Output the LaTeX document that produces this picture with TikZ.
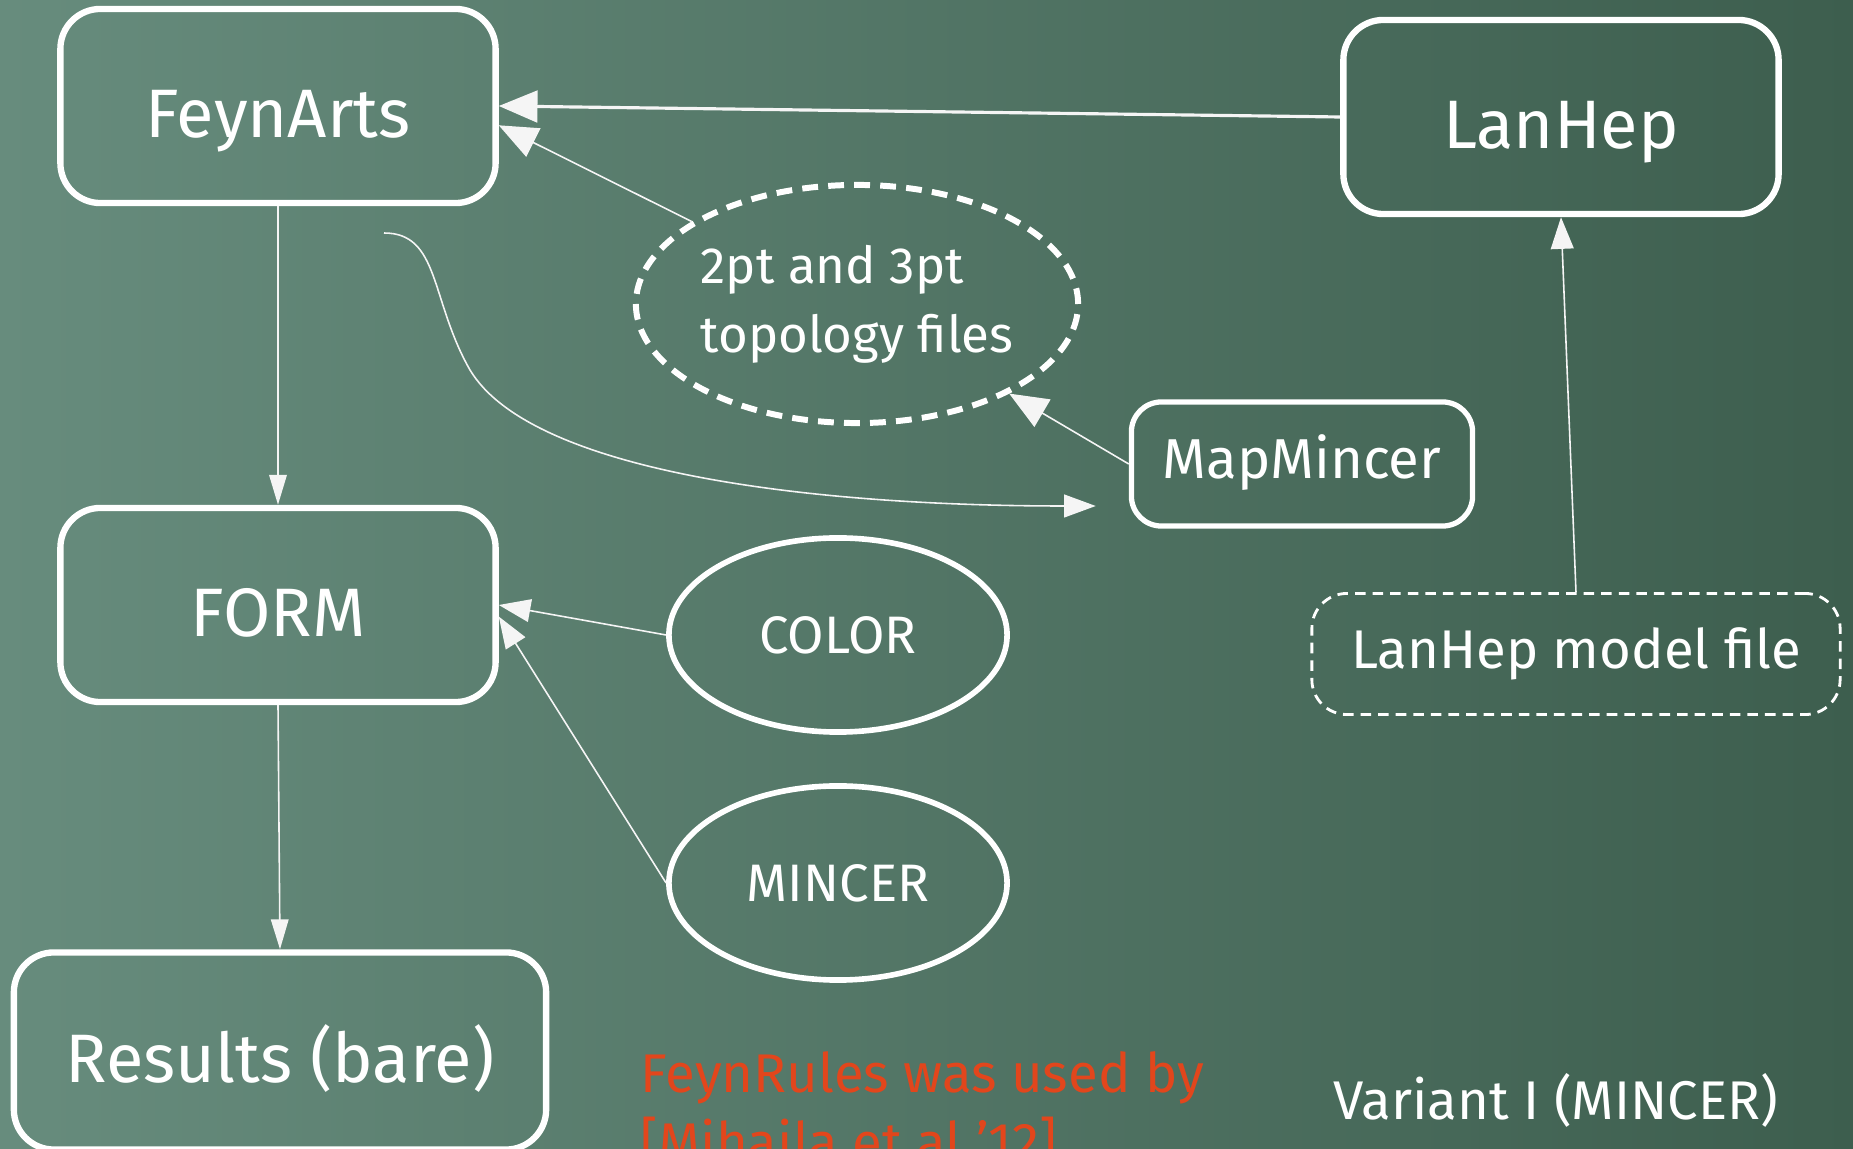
\documentclass[tikz,border=0pt]{standalone}
\usepackage{fontspec}
\setmainfont{Fira Sans}
\usetikzlibrary{arrows.meta,shapes.geometric}

\definecolor{boardlight}{HTML}{678C7D}
\definecolor{boarddark}{HTML}{3D5E4E}
\definecolor{noteorange}{HTML}{E2461C}

\begin{document}
\begin{tikzpicture}[x = 0.01cm, y = -0.01cm,
    box/.style = {draw = white, line width = 1.8pt, rounded corners = 0.4cm, text = white,
        minimum width = 4.35cm, minimum height = 1.94cm, text height = 20pt, text depth = 2pt,
        font = \fontsize{19.5}{23}\selectfont},
    blob/.style = {ellipse, draw = white, line width = 1.6pt, text = white, inner sep = 0pt,
        minimum width = 3.38cm, minimum height = 1.94cm, font = \fontsize{15}{18}\selectfont},
    link/.style = {white!92!gray, line width = 0.45pt},
    bighead/.style = {-{Triangle[length = 11pt, width = 9pt]}},
    head/.style = {-{Triangle[length = 9pt, width = 6.5pt]}},
    slimhead/.style = {-{Triangle[length = 8.5pt, width = 5pt]}}]

    \useasboundingbox (0, 0) rectangle (1853, 1149);
    \clip (0, 0) rectangle (1853, 1149);
    \shade [left color = boardlight, right color = boarddark] (0, 0) rectangle (1853, 1149);

    % boxes
    \node [box] (feynarts) at (278, 106) {FeynArts};
    \node [box] (lanhep) at (1561, 117) {LanHep};
    \node [box] (form) at (278, 605) {FORM};
    \node [box, minimum width = 5.32cm, minimum height = 1.97cm] (results) at (280, 1051) {Results (bare)};
    \node [box, line width = 1.5pt, rounded corners = 0.3cm, minimum width = 3.41cm, minimum height = 1.24cm,
        text height = 11.5pt, text depth = 3.2pt, font = \fontsize{16}{19}\selectfont] (mapmincer) at (1302, 464) {MapMincer};

    % ellipses
    \node [blob, line width = 1.7pt, dash pattern = on 4.5pt off 2.9pt, minimum width = 4.32cm, minimum height = 2.38cm,
        align = left, font = \fontsize{14.5}{19.6}\selectfont] (topo) at (857, 304) {2pt and 3pt\\topology files};
    \node [blob] (color) at (838, 635) {COLOR};
    \node [blob] (mincer) at (838, 883) {MINCER};

    \node [draw = white, line width = 0.8pt, dash pattern = on 3pt off 2pt, rounded corners = 0.35cm, text = white,
        minimum width = 5.28cm, minimum height = 1.21cm, font = \fontsize{15.5}{18}\selectfont] (modelfile) at (1576, 654) {LanHep model file};

    % connectors
    \draw [link, line width = 0.9pt, bighead] (lanhep.west) -- (feynarts.east);
    \draw [link, bighead] (topo) -- (feynarts.-5);
    \draw [link, bighead] (mapmincer.west) -- (topo);
    \draw [link, head] (color.west) -- (form.east);
    \draw [link, head] (mincer.west) -- (form.-3);
    \draw [link, head] (modelfile.north) -- (lanhep.south);
    \draw [link, slimhead] (feynarts.south) -- (form.north);
    \draw [link, slimhead] (form.south) -- (results.north);

    \coordinate (bend) at (384, 233);
    \coordinate (mapin) at ([shift = {(-33, 42)}]mapmincer.west);
    \draw [link, head] (bend) .. controls (440, 233) and (430, 300) .. (470, 370)
        .. controls (530, 470) and (800, 506) .. (mapin);

    % notes
    \node [anchor = north west, inner sep = 0pt, align = left, text = noteorange,
        font = \fontsize{15.5}{19.6}\selectfont] (feynrules) at (640, 1051) {FeynRules was used by\\{[}Mihaila et al '12{]}};
    \node [anchor = base west, inner sep = 0pt, text = white,
        font = \fontsize{15.5}{18}\selectfont] (variant) at (1333, 1120) {Variant I (MINCER)};
\end{tikzpicture}
\end{document}
